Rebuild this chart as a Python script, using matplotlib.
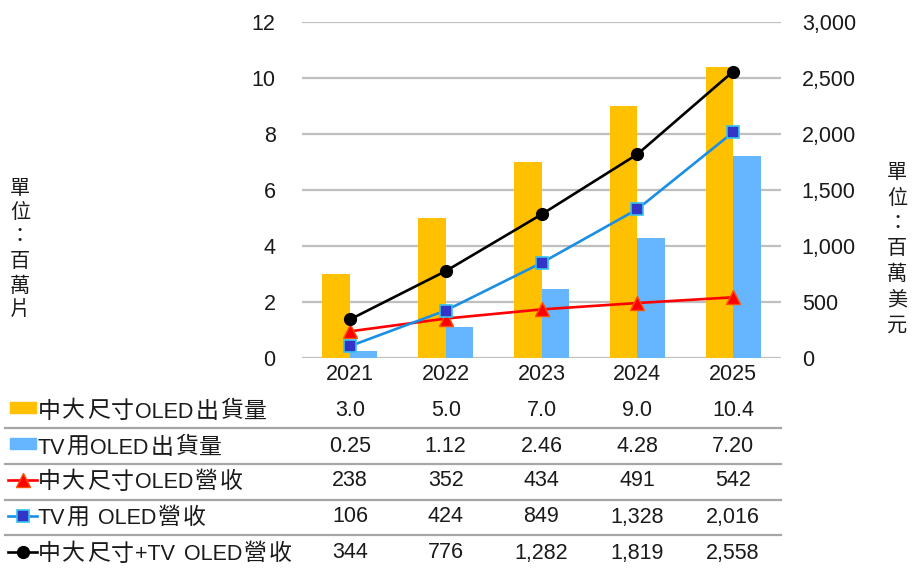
import matplotlib
matplotlib.use('Agg')
import matplotlib.pyplot as plt
from matplotlib.transforms import blended_transform_factory
from matplotlib.lines import Line2D
from matplotlib.patches import Rectangle
from matplotlib.ticker import FuncFormatter

# ---------------- data ----------------
years = ['2021', '2022', '2023', '2024', '2025']
ship_mid_large = [3.0, 5.0, 7.0, 9.0, 10.4]      # 百萬片
ship_tv = [0.25, 1.12, 2.46, 4.28, 7.20]          # 百萬片
rev_mid_large = [238, 352, 434, 491, 542]         # 百萬美元
rev_tv = [106, 424, 849, 1328, 2016]              # 百萬美元
rev_total = [344, 776, 1282, 1819, 2558]          # 百萬美元
series_names = ['中大尺寸OLED出貨量', 'TV用OLED出貨量', '中大尺寸OLED營收',
                'TV用 OLED營收', '中大尺寸+TV OLED營收']
left_ticks = [0, 2, 4, 6, 8, 10, 12]
right_ticks = [0, 500, 1000, 1500, 2000, 2500, 3000]
left_title = '單位：百萬片'
right_title = '單位：百萬美元'

LAT = 'Liberation Sans'
CJK = 'Noto Sans CJK TC'
plt.rcParams['font.family'] = [LAT, CJK, 'DejaVu Sans']

W, H = 915, 568
fig = plt.figure(figsize=(W / 100, H / 100), dpi=100)


def fx(px):
    return px / W


def fy(py):
    return 1 - py / H


ORANGE = '#FFC000'
LBLUE = '#66B6FF'
RED = '#FF0000'
BLUE_LINE = '#1A8FE3'
SQ_FACE = '#3434C8'
SQ_EDGE = '#33C3F0'
GRID = '#BFBFBF'
SEP = '#A6A6A6'
TXT = '#1A1A1A'
FS = 15.5
CJK_FS = 16.5
CJK_ADV = 24.5

ax = fig.add_axes([fx(302), fy(358), fx(781) - fx(302), fy(22) - fy(358)])
ax2 = ax.twinx()

x = list(range(len(years)))
bw = 0.287
ax.bar([i - bw / 2 for i in x], ship_mid_large, width=bw, color=ORANGE, zorder=2)
ax.bar([i + bw / 2 for i in x], ship_tv, width=bw, color=LBLUE, zorder=2)
ax.set_xlim(-0.5, len(years) - 0.5)
ax.set_ylim(0, 12)
ax.set_yticks(left_ticks)
ax.set_xticks([])
ax.grid(axis='y', color=GRID, lw=1.6)
ax.set_axisbelow(True)
ax.tick_params(axis='y', length=0, pad=19, labelsize=FS, labelcolor=TXT)
for s in ax.spines.values():
    s.set_visible(False)

line_styles = [
    (rev_mid_large, dict(color=RED, marker='^', markersize=10, markerfacecolor=RED,
                         markeredgecolor='#FF5000', markeredgewidth=1)),
    (rev_tv, dict(color=BLUE_LINE, marker='s', markersize=9, markerfacecolor=SQ_FACE,
                  markeredgecolor=SQ_EDGE, markeredgewidth=1.2)),
    (rev_total, dict(color='black', marker='o', markersize=8.5, markerfacecolor='black',
                     markeredgecolor='black')),
]
for vals, st in line_styles:
    ax2.plot(x, vals, lw=1.9, zorder=3, **st)
ax2.set_ylim(0, 3000)
ax2.set_yticks(right_ticks)
ax2.yaxis.set_major_formatter(FuncFormatter(lambda v, p: f'{int(v):,}'))
ax2.tick_params(axis='y', length=0, pad=15, labelsize=FS, labelcolor=TXT)
ax2.set_xticks([])
for s in ax2.spines.values():
    s.set_visible(False)


# axis titles (vertical stacked characters)
def vertical_title(xc, y0, pitch, s):
    for k, ch in enumerate(s):
        fig.text(fx(xc), fy(y0 + k * pitch), ch, ha='center', va='center',
                 fontsize=14.5, color=TXT, family=[CJK, LAT])


vertical_title(20, 188, 24.5, left_title)
vertical_title(897, 173, 25.3, right_title)

# ---------------- data table ----------------
renderer = fig.canvas.get_renderer()


def draw_mixed(x0, yc, s):
    runs = []
    for ch in s:
        kind = 'sp' if ch == ' ' else ('cjk' if ord(ch) >= 0x2E80 else 'lat')
        if kind == 'lat' and runs and runs[-1][0] == 'lat':
            runs[-1][1] += ch
        else:
            runs.append([kind, ch])
    xp = x0
    base = fy(yc + 7.5)
    for kind, txt in runs:
        if kind == 'sp':
            xp += 8
        elif kind == 'cjk':
            fig.text(fx(xp + CJK_ADV / 2), base, txt, ha='center', va='baseline',
                     fontsize=CJK_FS, family=[CJK, LAT], color=TXT)
            xp += CJK_ADV
        else:
            t = fig.text(fx(xp), base, txt, ha='left', va='baseline',
                         fontsize=FS, family=[LAT, CJK], color=TXT)
            xp += t.get_window_extent(renderer).width + 1


tr = blended_transform_factory(ax.transData, fig.transFigure)
for i, yr in enumerate(years):
    fig.text(i, fy(375), yr, transform=tr, ha='center', va='center', fontsize=FS, color=TXT)

row_y = [410, 446, 481, 517, 553]
sep_y = [428, 464, 500, 535]
row_vals = [
    [f'{v:.1f}' for v in ship_mid_large],
    [f'{v:.2f}' for v in ship_tv],
    [f'{v:,}' for v in rev_mid_large],
    [f'{v:,}' for v in rev_tv],
    [f'{v:,}' for v in rev_total],
]
for r, (name, vals) in enumerate(zip(series_names, row_vals)):
    yc = row_y[r]
    draw_mixed(37, yc, name)
    for i, s in enumerate(vals):
        fig.text(i, fy(yc), s, transform=tr, ha='center', va='center', fontsize=FS, color=TXT)

# legend keys
for r, col in enumerate([ORANGE, LBLUE]):
    yc = row_y[r] - 3
    fig.add_artist(Rectangle((fx(10), fy(yc + 5.5)), fx(36) - fx(10), 11 / H,
                             transform=fig.transFigure, color=col))
for k, (vals, st) in enumerate(line_styles):
    yc = row_y[k + 2] - 1
    fig.add_artist(Line2D([fx(8), fx(37)], [fy(yc), fy(yc)], transform=fig.transFigure,
                          lw=1.9, color=st['color']))
    st2 = {kk: vv for kk, vv in st.items() if kk != 'color'}
    fig.add_artist(Line2D([fx(22.5)], [fy(yc)], transform=fig.transFigure,
                          linestyle='none', **st2))

for yy in sep_y:
    fig.add_artist(Line2D([fx(5), fx(781)], [fy(yy), fy(yy)], transform=fig.transFigure,
                          lw=1.6, color=SEP))

fig.savefig('out.png', dpi=100)
